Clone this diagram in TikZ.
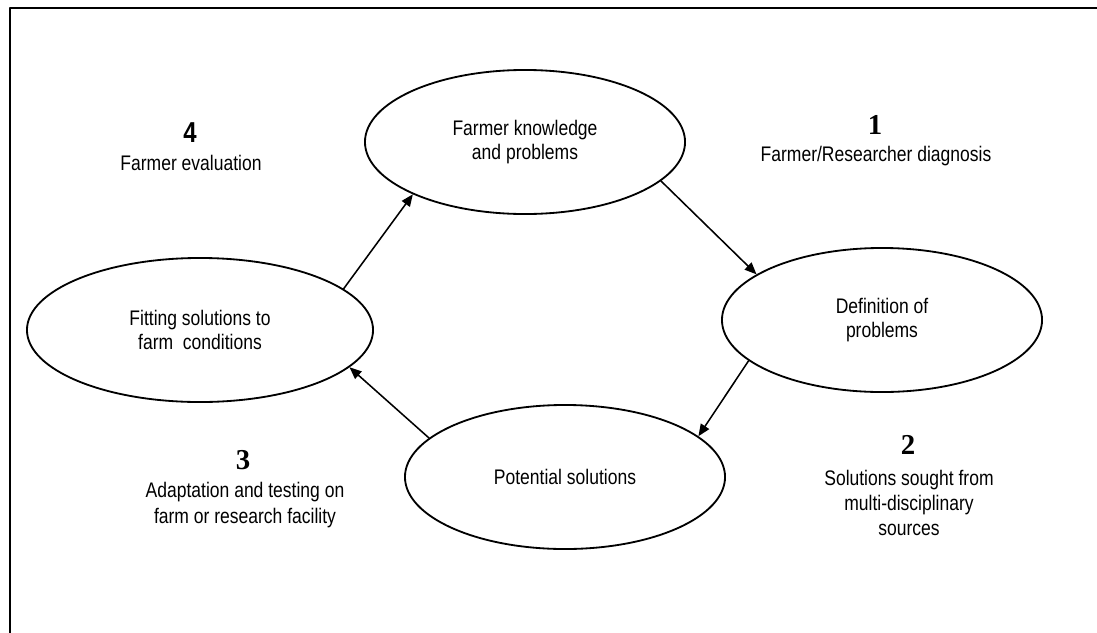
\documentclass[tikz,border=0pt]{standalone}
\usepackage{fontspec}
\setmainfont{Liberation Sans}[FakeStretch=0.83]
\newfontfamily\numfont{Liberation Serif}
\usetikzlibrary{shapes.geometric,arrows.meta}

\begin{document}
\begin{tikzpicture}[
    x=0.025cm,
    y=-0.025cm,
    line cap=round,
    line join=round,
    stage/.style={ellipse,draw,line width=1.3pt,minimum width=8cm,minimum height=3.6cm,
                  inner sep=0pt,align=center,font=\fontsize{15}{17.5}\selectfont},
    flow/.style={line width=1.1pt,-{Triangle[length=8.5pt,width=7pt]}},
    stepno/.style={inner sep=0pt,font=\fontsize{20.5}{22}\selectfont\numfont\bfseries},
    stepnote/.style={inner sep=0pt,align=center,font=\fontsize{15}{18}\selectfont}
]

% -------------------------------------------------
% Page and frame (cut at right and bottom)
% -------------------------------------------------

\useasboundingbox (0,0) rectangle (1097,632);
\draw[line width=2pt] (10,640)--(10,8)--(1105,8);

% -------------------------------------------------
% Stages of the cycle
% -------------------------------------------------

\node[stage] (know) at (525,142) {Farmer knowledge\\and problems};
\node[stage] (defn) at (882,320) {Definition of\\problems};
\node[stage] (pot)  at (565,477) {Potential solutions};
\node[stage,minimum width=8.65cm] (fit) at (200,330) {Fitting solutions to\\farm\ \ conditions};

% -------------------------------------------------
% Arrows round the cycle
% -------------------------------------------------

\draw[flow] (know.-16.6) -- (defn.160.9);
\draw[flow] (defn.197.9) -- (pot.17.8);
\draw[flow] (pot.164.2)  -- (fit.-14.7);
\draw[flow] (fit.16.7)   -- (know.205.6);

% -------------------------------------------------
% Step notes
% -------------------------------------------------

\node[stepno] (n1) at (875,125) {1};
\node[stepnote] (t1) at (876,156) {Farmer/Researcher diagnosis};

\node[stepno] (n2) at (908,445) {2};
\node[stepnote] (t2) at (909,503) {Solutions sought from\\multi-disciplinary\\sources};

\node[stepno] (n3) at (243,460) {3};
\node[stepnote] (t3) at (245,505) {Adaptation and testing on\\farm or research facility};

\node[stepno,font=\fontsize{20.5}{22}\selectfont\bfseries] (n4) at (190,133) {4};
\node[stepnote] (t4) at (191,163) {Farmer evaluation};
\end{tikzpicture}
\end{document}
